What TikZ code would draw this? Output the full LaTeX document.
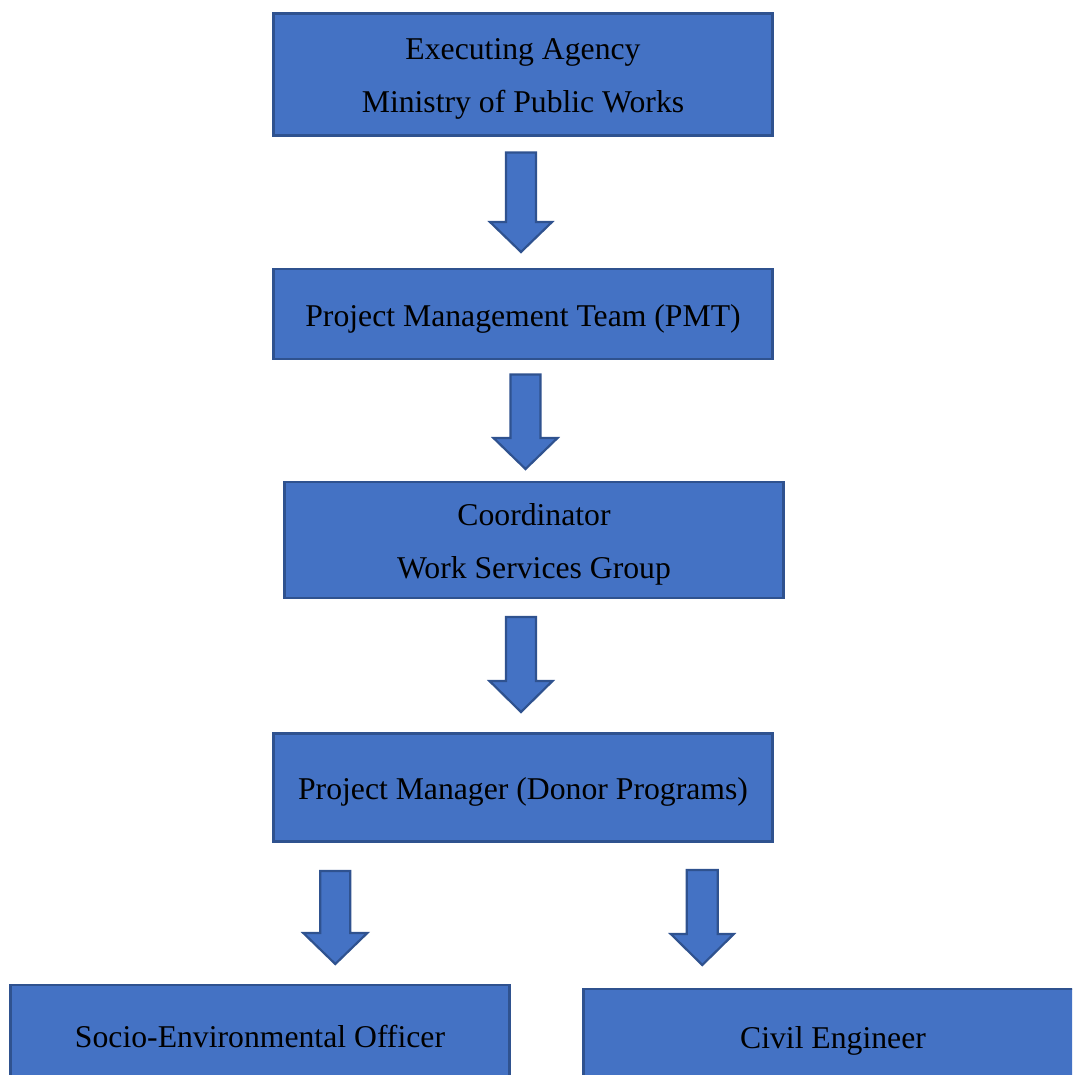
\documentclass[tikz,border=0pt]{standalone}
\usepackage{fontspec}
\setmainfont{Liberation Serif}
\definecolor{boxfill}{HTML}{4472C4}
\definecolor{boxline}{HTML}{2F528F}
\newcommand\lowr[1]{\raisebox{-4.5pt}[\height][\depth]{#1}}
\tikzset{
  orgbox/.style={draw=boxline, fill=boxfill, line width=2.4pt, rectangle,
    minimum width=499pt, align=center, text=black, inner sep=0pt,
    font=\fontsize{31.7}{53}\selectfont},
  blockarr/.style={draw=boxline, fill=boxfill, line width=2.2pt, line join=miter}
}
% #1 centre x, #2 top, #3 head start, #4 tip, #5 shaft half width, #6 head half width
\newcommand\blockarrow[6]{%
  \draw[blockarr] (#1-#5,#2) -- (#1+#5,#2) -- (#1+#5,#3) -- (#1+#6,#3) -- (#1,#4)
    -- (#1-#6,#3) -- (#1-#5,#3) -- cycle;}
\begin{document}
\begin{tikzpicture}[x=1pt,y=-1pt]
\useasboundingbox (0,0) rectangle (1072,1075);
\clip (0,0) rectangle (1072,1075);
\node[orgbox, minimum height=122pt] (ea) at (523,74.5) {\lowr{Executing Agency}\\\lowr{Ministry of Public Works}};
\node[orgbox, minimum height=90pt] (pmt) at (523,314) {\lowr{Project Management Team (PMT)}};
\node[orgbox, minimum height=116pt] (coord) at (534,540) {\lowr{Coordinator}\\\lowr{Work Services Group}};
\node[orgbox, minimum height=108pt] (pm) at (523,787.5) {\lowr{Project Manager (Donor Programs)}};
\node[orgbox, minimum height=94pt] (seo) at (260,1032) {\lowr{Socio-Environmental Officer}};
\node[orgbox, minimum height=94pt] (ce) at (833,1036) {\lowr{Civil Engineer}};
\blockarrow{521}{152.5}{222}{252}{15}{31}
\blockarrow{525.5}{374.5}{438}{469}{15}{32}
\blockarrow{521}{617}{681}{712}{15}{31.5}
\blockarrow{335.3}{871}{933}{964}{15}{32}
\blockarrow{702.3}{870}{934}{965}{15.5}{31.5}
\end{tikzpicture}
\end{document}
